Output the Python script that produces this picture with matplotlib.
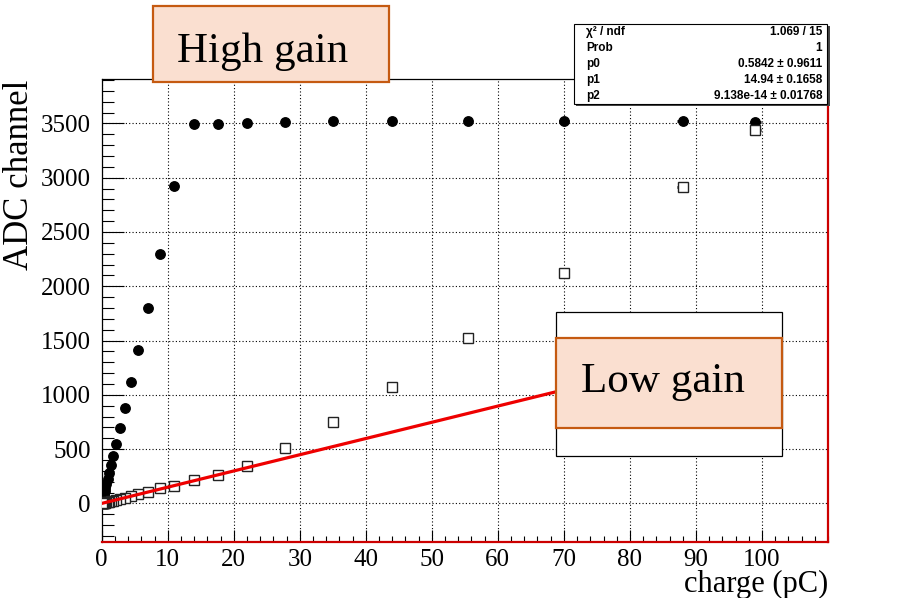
import numpy as np
import matplotlib.pyplot as plt
from matplotlib.patches import Rectangle
from matplotlib.ticker import MultipleLocator

plt.rcParams['font.family'] = ['Liberation Serif', 'DejaVu Serif']

# injected charge (pC), same steps for both gains
charge = [99, 88, 70, 55.5, 44, 35, 27.7, 22, 17.6, 14, 11, 8.8, 7, 5.5, 4.4, 3.5,
          2.8, 2.2, 1.75, 1.4, 1.1, 0.88, 0.7, 0.55, 0.44, 0.35, 0.28, 0.22, 0.18,
          0.14, 0.11, 0.09, 0.07]
charge_err = [0.8, 0.8, 0.7, 0.55, 0.45, 0.35, 0.28, 0.22, 0.18, 0.14, 0.11, 0.09,
              0.07, 0.06, 0.04, 0.04, 0.03, 0.02, 0.02, 0.01, 0.01, 0.01, 0.01, 0.01,
              0, 0, 0, 0, 0, 0, 0, 0, 0]
high_gain = [3516, 3518, 3518, 3522, 3524, 3525, 3515, 3500, 3492, 3494, 2926, 2295,
             1797, 1416, 1116, 882, 698, 548, 437, 350, 278, 222, 178, 142, 113, 90,
             72, 57, 46, 37, 29, 23, 18]
low_gain = [3439, 2917, 2125, 1524, 1073, 753, 510, 345, 258, 213, 163, 143, 109, 86,
            65, 52, 42, 33, 27, 22, 17, 14, 11, 9, 7, 6, 5, 4, 3, 3, 2, 2, 1]

# pol2 fit of low gain (stat box values)
fit_names = ['χ² / ndf', 'Prob', 'p0', 'p1', 'p2']
fit_values = ['1.069 / 15', '1', '0.5842 ± 0.9611', '14.94 ± 0.1658',
              '9.138e-14 ± 0.01768']
p0, p1, p2 = 0.5842, 14.94, 9.138e-14

W, H = 898, 598
fig = plt.figure(figsize=(W / 100, H / 100), dpi=100)
ax = fig.add_axes([101.7 / W, 1 - 541.7 / H, 726.3 / W, 462.4 / H])

ax.errorbar(charge, high_gain, xerr=charge_err, fmt='o', color='black', ms=6.8,
            elinewidth=2, capsize=0, zorder=3)
ax.errorbar(charge, low_gain, xerr=charge_err, fmt='s', mfc='white', mec='#222222',
            color='black', ms=7.2, mew=1.0, elinewidth=2, capsize=0, zorder=4)
xf = np.linspace(0.07, 99, 200)
ax.plot(xf, p0 + p1 * xf + p2 * xf ** 2, color='#ee0000', lw=2.3, zorder=5)

ax.set_xlim(0, 110)
ax.set_ylim(-352, 3906)
ax.xaxis.set_major_locator(MultipleLocator(10))
ax.xaxis.set_minor_locator(MultipleLocator(2))
ax.yaxis.set_major_locator(MultipleLocator(500))
ax.yaxis.set_minor_locator(MultipleLocator(100))
ax.set_xticks(range(0, 101, 10))
ax.set_xticklabels([str(v) for v in range(0, 101, 10)])
ax.tick_params(axis='x', which='major', direction='in', length=8.6, width=0.8,
               labelsize=18, pad=5, top=False)
ax.tick_params(axis='x', which='minor', direction='in', length=4.3, width=0.8, top=False)
ax.tick_params(axis='y', which='major', direction='in', length=15.6, width=0.8,
               labelsize=18, pad=8, right=False)
ax.tick_params(axis='y', which='minor', direction='in', length=8.4, width=0.8, right=False)
ax.grid(True, which='major', color='black', linestyle=(0, (1, 2)), linewidth=0.8)

for s in ['left', 'top']:
    ax.spines[s].set_linewidth(0.9)
for s in ['right', 'bottom']:
    ax.spines[s].set_color('#cc0000')
    ax.spines[s].set_linewidth(1.6)

ax.set_xlabel('charge (pC)', fontsize=22, loc='right')
ax.xaxis.set_label_coords(1.0, -0.062)
ax.set_ylabel('ADC channel', fontsize=25, loc='top')
ax.yaxis.set_label_coords(-0.09, 1.0)


def fx(px):
    return px / W


def fy(py):
    return 1 - py / H


# stat box
fig.patches.append(Rectangle((fx(576), fy(106)), fx(254), 80 / H, transform=fig.transFigure,
                             facecolor='#444444', edgecolor='none', zorder=9))
fig.patches.append(Rectangle((fx(574), fy(104)), fx(253), 80 / H, transform=fig.transFigure,
                             facecolor='white', edgecolor='black', lw=0.8, zorder=10))
for i, (n, v) in enumerate(zip(fit_names, fit_values)):
    yy = fy(32 + 16 * i)
    fig.text(fx(586), yy, n, ha='left', va='center', fontsize=8.5, fontweight='bold',
             family=['Liberation Sans', 'DejaVu Sans'], zorder=11)
    fig.text(fx(822), yy, v, ha='right', va='center', fontsize=8.5, fontweight='bold',
             family=['Liberation Sans', 'DejaVu Sans'], zorder=11)

# gain labels
orange_edge = '#c55a11'
orange_fill = '#fadfd0'
fig.patches.append(Rectangle((fx(153), fy(82)), fx(236), 76 / H, transform=fig.transFigure,
                             facecolor=orange_fill, edgecolor=orange_edge, lw=1.6, zorder=10))
fig.text(fx(263), fy(61.7), 'High gain', ha='center', va='baseline', fontsize=31, zorder=11)

fig.patches.append(Rectangle((fx(555.7), fy(455.7)), fx(226.6), 144 / H,
                             transform=fig.transFigure, facecolor='white',
                             edgecolor='black', lw=0.9, zorder=10))
fig.patches.append(Rectangle((fx(555.7), fy(428.3)), fx(226.6), 90.6 / H,
                             transform=fig.transFigure, facecolor=orange_fill,
                             edgecolor=orange_edge, lw=1.6, zorder=11))
fig.text(fx(663), fy(391.7), 'Low gain', ha='center', va='baseline', fontsize=31, zorder=12)

fig.savefig('out.png', dpi=100)
